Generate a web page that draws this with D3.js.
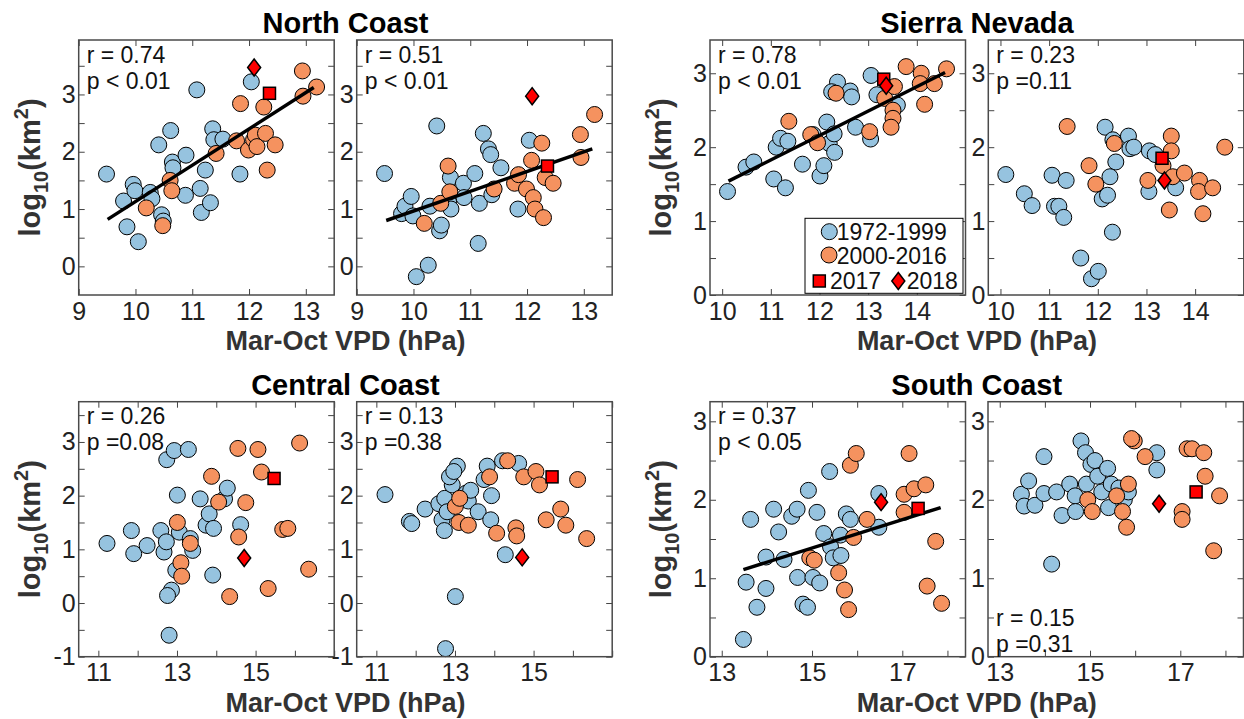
<!DOCTYPE html>
<html>
<head>
<meta charset="utf-8">
<script src="https://d3js.org/d3.v7.min.js"></script>
<style>
  body { margin: 0; background: #fff; }
  svg { display: block; font-family: "Liberation Sans", Arial, Helvetica, sans-serif; }
</style>
</head>
<body>
<svg width="1244" height="719"></svg>
<script>
// data points are [Mar-Oct VPD (hPa), log10 burned area (km2)]

// North Coast
var ncLeftBlue = [[9.49,1.61],[9.79,1.14],[9.85,0.69],[9.96,1.43],[9.99,1.32],[10.05,0.43],[10.26,1.29],
  [10.29,1.18],[10.41,2.12],[10.46,0.90],[10.49,0.79],[10.62,2.37],[10.65,1.82],[10.66,1.72],[10.88,1.24],
  [10.89,1.94],[11.08,3.08],[11.14,1.36],[11.16,0.94],[11.23,1.68],[11.32,1.11],[11.36,2.40],[11.38,2.21],
  [11.54,2.22],[11.84,1.61],[12.04,3.22]];
var ncLeftOrange = [[10.19,1.02],[10.48,0.71],[10.61,1.50],[10.64,1.32],[11.42,1.97],[11.78,2.19],[11.85,2.84],
  [11.99,2.03],[12.08,2.21],[12.11,2.29],[12.14,2.09],[12.26,2.78],[12.29,2.32],[12.32,1.68],[12.46,2.12],
  [12.94,3.41],[12.95,2.97],[13.19,3.13]];
var ncLeftRed = [[12.36,3.02],[12.09,3.47]];
var ncLeftFit = [[9.51,0.82],[13.14,3.12]];
var ncLeftStats = ["r = 0.74","p < 0.01"];

var ncRightBlue = [[9.49,1.62],[9.79,0.92],[9.85,1.05],[9.96,1.22],[9.99,0.88],[10.05,-0.18],[10.26,0.02],
  [10.29,1.05],[10.41,2.45],[10.46,0.62],[10.49,0.72],[10.62,1.12],[10.65,1.55],[10.66,1.00],[10.88,1.45],
  [10.89,1.20],[11.08,1.62],[11.14,0.40],[11.16,1.10],[11.23,2.32],[11.32,2.05],[11.36,1.95],[11.38,1.25],
  [11.54,1.72],[11.84,1.00],[12.04,2.20]];
var ncRightOrange = [[10.19,0.75],[10.48,1.10],[10.61,1.75],[10.64,1.30],[11.42,1.35],[11.78,1.45],[11.85,1.60],
  [11.99,1.35],[12.08,1.85],[12.11,1.20],[12.14,1.00],[12.26,2.15],[12.29,0.85],[12.32,1.55],[12.46,1.45],
  [12.94,2.30],[12.95,1.90],[13.19,2.65]];
var ncRightRed = [[12.36,1.75],[12.09,2.97]];
var ncRightFit = [[9.52,0.80],[13.15,2.05]];
var ncRightStats = ["r = 0.51","p < 0.01"];

// Sierra Nevada
var snLeftBlue = [[10.11,1.40],[10.49,1.73],[10.65,1.80],[11.06,1.57],[11.11,2.00],[11.20,2.12],[11.30,1.45],
  [11.35,2.08],[11.65,1.77],[11.87,2.17],[12.01,1.61],[12.09,1.75],[12.15,2.34],[12.20,2.05],[12.30,2.18],
  [12.31,1.93],[12.37,2.88],[12.25,2.75],[12.63,2.76],[12.66,2.68],[12.74,2.27],[13.05,2.11],[13.06,2.97],
  [13.18,2.71],[13.60,2.57]];
var snLeftOrange = [[11.37,2.35],[11.82,2.17],[11.96,2.06],[12.34,2.73],[13.03,2.21],[13.34,2.66],[13.51,2.50],
  [13.51,2.39],[13.47,2.27],[13.54,2.82],[13.78,3.09],[14.09,3.00],[14.07,2.86],[14.36,2.86],[14.16,2.58],
  [14.61,3.06]];
var snLeftRed = [[13.32,2.92],[13.37,2.83]];
var snLeftFit = [[10.13,1.54],[14.58,3.01]];
var snLeftStats = ["r = 0.78","p < 0.01"];

var snRightBlue = [[10.11,1.63],[10.49,1.37],[10.65,1.21],[11.06,1.62],[11.11,1.20],[11.20,1.20],[11.30,1.05],
  [11.35,1.55],[11.65,0.50],[11.87,0.22],[12.01,0.32],[12.09,1.30],[12.15,2.27],[12.20,1.35],[12.30,0.85],
  [12.31,2.10],[12.37,1.80],[12.25,1.60],[12.63,2.15],[12.66,1.98],[12.74,2.00],[13.05,1.40],[13.06,1.95],
  [13.18,1.90],[13.60,1.45]];
var snRightOrange = [[11.37,2.28],[11.82,1.75],[11.96,1.50],[12.34,2.05],[13.03,1.55],[13.34,1.75],[13.51,2.15],
  [13.51,1.95],[13.47,1.15],[13.54,1.60],[13.78,1.65],[14.09,1.55],[14.07,1.40],[14.36,1.45],[14.16,1.10],
  [14.61,2.00]];
var snRightRed = [[13.32,1.85],[13.37,1.55]];
var snRightStats = ["r = 0.23","p =0.11"];

// Central Coast
var ccLeftBlue = [[11.22,1.11],[11.84,1.35],[11.90,0.92],[12.24,1.07],[12.59,1.35],[12.67,0.95],[12.73,1.14],
  [12.74,2.67],[12.93,2.84],[13.29,2.86],[12.86,0.24],[12.76,0.14],[12.80,-0.60],[13.01,2.01],[13.06,1.32],
  [12.97,0.61],[13.34,1.20],[13.40,0.98],[13.59,1.94],[13.74,1.45],[13.82,1.66],[13.93,1.39],[13.91,0.52],
  [14.21,1.94],[14.28,2.14],[14.62,1.46]];
var ccLeftOrange = [[13.01,1.50],[13.10,0.75],[13.12,0.50],[13.34,1.11],[13.88,2.36],[14.06,1.88],[14.34,0.12],
  [14.55,2.88],[14.57,1.23],[14.75,1.87],[15.06,2.86],[15.15,2.44],[15.32,0.27],[15.69,1.37],[15.82,1.39],
  [16.12,2.98],[16.35,0.63]];
var ccLeftRed = [[15.47,2.32],[14.71,0.84]];
var ccLeftStats = ["r = 0.26","p =0.08"];

var ccRightBlue = [[11.22,2.02],[11.84,1.52],[11.90,1.48],[12.24,1.75],[12.59,1.85],[12.67,1.55],[12.73,1.35],
  [12.74,1.95],[12.93,2.20],[13.29,2.05],[12.86,2.35],[12.76,-0.85],[12.80,1.70],[13.01,0.12],[13.06,2.55],
  [12.97,2.45],[13.34,1.90],[13.40,2.10],[13.59,1.70],[13.74,2.30],[13.82,2.55],[13.93,2.00],[13.91,1.55],
  [14.21,2.65],[14.28,0.90],[14.62,2.60]];
var ccRightOrange = [[13.01,1.80],[13.10,1.50],[13.12,1.95],[13.34,1.45],[13.88,2.35],[14.06,1.30],[14.34,2.65],
  [14.55,1.40],[14.57,1.25],[14.75,2.35],[15.06,2.45],[15.15,2.20],[15.32,1.55],[15.69,1.75],[15.82,1.45],
  [16.12,2.30],[16.35,1.20]];
var ccRightRed = [[15.47,2.35],[14.71,0.85]];
var ccRightStats = ["r = 0.13","p =0.38"];

// South Coast
var scLeftBlue = [[13.48,0.22],[13.54,0.95],[13.64,1.75],[13.78,0.63],[13.98,0.87],[13.98,1.27],[14.15,1.88],
  [14.26,1.59],[14.38,1.24],[14.55,1.79],[14.67,1.88],[14.68,1.01],[14.80,0.67],[14.90,0.63],[14.92,2.12],
  [15.02,1.01],[15.11,1.84],[15.17,0.94],[15.26,1.57],[15.39,2.36],[15.41,1.40],[15.47,1.26],[15.63,1.55],
  [15.64,1.29],[15.76,1.82],[15.85,1.75],[16.48,2.08],[16.48,1.65]];
var scLeftOrange = [[14.95,1.26],[15.05,1.23],[15.59,1.07],[15.72,0.85],[15.81,0.60],[15.85,2.44],[15.98,2.59],
  [15.92,1.52],[16.22,1.75],[17.04,2.07],[17.04,1.84],[17.15,2.59],[17.26,2.14],[17.52,2.19],[17.74,1.47],
  [17.55,0.90],[17.87,0.68]];
var scLeftRed = [[17.35,1.89],[16.53,1.97]];
var scLeftFit = [[13.48,1.11],[17.85,1.90]];
var scLeftStats = ["r = 0.37","p < 0.05"];

var scRightBlue = [[13.48,2.07],[13.54,1.92],[13.64,2.24],[13.78,1.93],[13.98,2.08],[13.98,2.55],[14.15,1.18],
  [14.26,2.10],[14.38,1.80],[14.55,2.20],[14.67,2.05],[14.68,1.85],[14.80,2.75],[14.90,2.60],[14.92,2.20],
  [15.02,2.45],[15.11,2.50],[15.17,2.30],[15.26,2.10],[15.39,2.40],[15.41,1.90],[15.47,2.20],[15.63,2.05],
  [15.64,2.15],[15.76,2.00],[15.85,2.10],[16.48,2.60],[16.48,2.38]];
var scRightOrange = [[14.95,2.00],[15.05,1.85],[15.59,2.05],[15.72,1.85],[15.81,1.65],[15.85,2.20],[15.98,2.75],
  [15.92,2.78],[16.22,2.55],[17.04,1.85],[17.04,1.75],[17.15,2.65],[17.26,2.65],[17.52,2.60],[17.74,1.35],
  [17.55,2.30],[17.87,2.05]];
var scRightRed = [[17.35,2.10],[16.53,1.95]];
var scRightStats = ["r = 0.15","p =0.31"];

// ticks
var xTicksNC = [9,10,11,12,13], xLabelsNC = [9,10,11,12,13];
var xTicksSN = [10,11,12,13,14], xLabelsSN = [10,11,12,13,14];
var xTicksCC = [11,12,13,14,15,16,17], xLabelsCC = [11,13,15];
var xTicksSC = [13,14,15,16,17,18], xLabelsSC = [13,15,17];
var yTicksNC = [0,0.5,1,1.5,2,2.5,3,3.5], yLabelsNC = [0,1,2,3];
var yTicksSN = [0,0.5,1,1.5,2,2.5,3], yLabelsSN = [0,1,2,3];
var yTicksCC = [-1,-0.5,0,0.5,1,1.5,2,2.5,3,3.5], yLabelsCC = [-1,0,1,2,3];
var yTicksSC = [0,0.5,1,1.5,2,2.5,3], yLabelsSC = [0,1,2,3];

var regionNames = ["North Coast","Sierra Nevada","Central Coast","South Coast"];
var legendLabels = ["1972-1999","2000-2016","2017","2018"];

var BLUE = "#96c3df", ORANGE = "#f5925f", RED = "#ff0000";
var PW = 255.5, PH = 255;

var svg = d3.select("svg");

var regions = [
  {name: regionNames[0], x0: 78.7, x1: 356.7, y0: 40, xDom: [9,13.5], yDom: [-0.5,3.95],
   xt: xTicksNC, xl: xLabelsNC, yt: yTicksNC, yl: yLabelsNC,
   panels: [
     {blue: ncLeftBlue, orange: ncLeftOrange, red: ncLeftRed, fit: ncLeftFit, stats: ncLeftStats},
     {blue: ncRightBlue, orange: ncRightOrange, red: ncRightRed, fit: ncRightFit, stats: ncRightStats}]},
  {name: regionNames[1], x0: 710, x1: 988.3, y0: 40, xDom: [9.75,15], yDom: [0,3.45],
   xt: xTicksSN, xl: xLabelsSN, yt: yTicksSN, yl: yLabelsSN,
   panels: [
     {blue: snLeftBlue, orange: snLeftOrange, red: snLeftRed, fit: snLeftFit, stats: snLeftStats, legend: true},
     {blue: snRightBlue, orange: snRightOrange, red: snRightRed, stats: snRightStats}]},
  {name: regionNames[2], x0: 78.7, x1: 356.7, y0: 401.7, xDom: [10.5,17], yDom: [-1,3.75],
   xt: xTicksCC, xl: xLabelsCC, yt: yTicksCC, yl: yLabelsCC,
   panels: [
     {blue: ccLeftBlue, orange: ccLeftOrange, red: ccLeftRed, stats: ccLeftStats},
     {blue: ccRightBlue, orange: ccRightOrange, red: ccRightRed, stats: ccRightStats}]},
  {name: regionNames[3], x0: 710, x1: 988, y0: 401.7, xDom: [12.74,18.4], yDom: [0,3.25],
   xt: xTicksSC, xl: xLabelsSC, yt: yTicksSC, yl: yLabelsSC,
   panels: [
     {blue: scLeftBlue, orange: scLeftOrange, red: scLeftRed, fit: scLeftFit, stats: scLeftStats},
     {blue: scRightBlue, orange: scRightOrange, red: scRightRed, stats: scRightStats, statsBottom: true}]}
];

function diamond(g) {
  g.append("path").attr("d", "M0,-8.5L6.5,0L0,8.5L-6.5,0Z")
    .attr("fill", RED).attr("stroke", "#000").attr("stroke-width", 1.5);
}
function square(g) {
  g.append("rect").attr("x", -6).attr("y", -6).attr("width", 12).attr("height", 12)
    .attr("fill", RED).attr("stroke", "#000").attr("stroke-width", 1.5);
}

function styleAxis(g) {
  g.attr("font-family", null).attr("font-size", 25);
  g.selectAll(".domain").remove();
  g.selectAll("line").attr("stroke", "#444").attr("stroke-width", 1);
  g.selectAll("text").attr("fill", "#222");
}

regions.forEach(function(reg) {
  var x = d3.scaleLinear().domain(reg.xDom).range([0, PW]);
  var y = d3.scaleLinear().domain(reg.yDom).range([PH, 0]);
  var fmt = function(list) { return function(d) { return list.indexOf(d) >= 0 ? String(d) : ""; }; };

  // title, x label, y label
  var cx = (reg.x0 + reg.x1 + PW) / 2;
  svg.append("text").attr("x", cx).attr("y", reg.y0 - 7)
    .attr("text-anchor", "middle").attr("font-weight", "bold").attr("font-size", 29)
    .attr("fill", "#000").text(reg.name);
  svg.append("text").attr("x", cx).attr("y", reg.y0 + 310)
    .attr("text-anchor", "middle").attr("font-weight", "bold").attr("font-size", 27)
    .attr("fill", "#333").text("Mar-Oct VPD (hPa)");
  var yl = svg.append("text")
    .attr("transform", "translate(" + (reg.x0 - 39) + "," + (reg.y0 + PH / 2) + ") rotate(-90)")
    .attr("text-anchor", "middle").attr("font-weight", "bold").attr("font-size", 29).attr("fill", "#333");
  yl.append("tspan").text("log");
  yl.append("tspan").attr("font-size", 20).attr("dy", 8).text("10");
  yl.append("tspan").attr("dy", -8).text("(km");
  yl.append("tspan").attr("font-size", 20).attr("dy", -12).text("2");
  yl.append("tspan").attr("dy", 12).text(")");

  reg.panels.forEach(function(p, i) {
    var px = i === 0 ? reg.x0 : reg.x1;
    var g = svg.append("g").attr("transform", "translate(" + px + "," + reg.y0 + ")");

    g.append("rect").attr("width", PW).attr("height", PH).attr("fill", "#fff");

    g.append("g").attr("transform", "translate(0," + PH + ")")
      .call(d3.axisBottom(x).tickValues(reg.xt).tickFormat(fmt(reg.xl)).tickSizeInner(-6).tickSizeOuter(0).tickPadding(7))
      .call(styleAxis);
    g.append("g")
      .call(d3.axisTop(x).tickValues(reg.xt).tickFormat("").tickSizeInner(-6).tickSizeOuter(0))
      .call(styleAxis);
    g.append("g")
      .call(d3.axisLeft(y).tickValues(reg.yt).tickFormat(fmt(reg.yl)).tickSizeInner(-6).tickSizeOuter(0).tickPadding(3))
      .call(styleAxis);
    g.append("g").attr("transform", "translate(" + PW + ",0)")
      .call(d3.axisRight(y).tickValues(reg.yt).tickFormat("").tickSizeInner(-6).tickSizeOuter(0))
      .call(styleAxis);

    g.selectAll("circle.blue").data(p.blue).enter().append("circle")
      .attr("class", "blue")
      .attr("cx", function(d) { return x(d[0]); }).attr("cy", function(d) { return y(d[1]); })
      .attr("r", 8).attr("fill", BLUE).attr("stroke", "#000").attr("stroke-width", 1);
    g.selectAll("circle.orange").data(p.orange).enter().append("circle")
      .attr("class", "orange")
      .attr("cx", function(d) { return x(d[0]); }).attr("cy", function(d) { return y(d[1]); })
      .attr("r", 8).attr("fill", ORANGE).attr("stroke", "#000").attr("stroke-width", 1);

    if (p.fit) {
      g.append("path").datum(p.fit)
        .attr("d", d3.line().x(function(d) { return x(d[0]); }).y(function(d) { return y(d[1]); }))
        .attr("stroke", "#000").attr("stroke-width", 3.5).attr("fill", "none");
    }

    g.append("g").attr("transform", "translate(" + x(p.red[0][0]) + "," + y(p.red[0][1]) + ")").call(square);
    g.append("g").attr("transform", "translate(" + x(p.red[1][0]) + "," + y(p.red[1][1]) + ")").call(diamond);

    g.append("rect").attr("width", PW).attr("height", PH)
      .attr("fill", "none").attr("stroke", "#4a4a4a").attr("stroke-width", 1.5);

    // r / p annotation, a little smaller so the two lines don't collide
    var sy = p.statsBottom ? [PH - 31, PH - 5] : [22.5, 48.5];
    p.stats.forEach(function(s, k) {
      g.append("text").attr("x", 8).attr("y", sy[k]).attr("font-size", 23)
        .attr("fill", "#111").text(s);
    });

    if (p.legend) {
      var lg = g.append("g").attr("transform", "translate(95,178.3)");
      lg.append("rect").attr("width", 158).attr("height", 75)
        .attr("fill", "#fff").attr("stroke", "#000").attr("stroke-width", 1);
      lg.append("circle").attr("cx", 24.3).attr("cy", 13.4).attr("r", 8)
        .attr("fill", BLUE).attr("stroke", "#000");
      lg.append("circle").attr("cx", 24).attr("cy", 36.7).attr("r", 8)
        .attr("fill", ORANGE).attr("stroke", "#000");
      lg.append("g").attr("transform", "translate(14.3,62.7)").call(square);
      lg.append("g").attr("transform", "translate(93.3,62.7)").call(diamond);
      var lt = [[31.7,22,0],[31.7,45.5,1],[25,70.5,2],[101.7,70.5,3]];
      lt.forEach(function(t) {
        lg.append("text").attr("x", t[0]).attr("y", t[1]).attr("font-size", 23)
          .attr("fill", "#111").text(legendLabels[t[2]]);
      });
    }
  });
});
</script>
</body>
</html>
